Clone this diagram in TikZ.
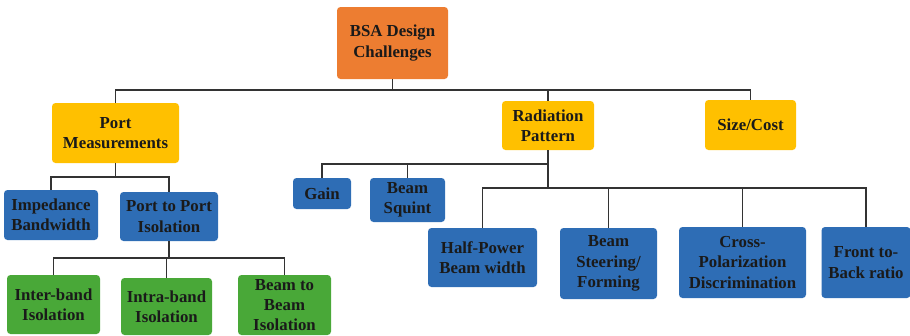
\documentclass[tikz,border=0pt]{standalone}
\usepackage{fontspec}
\setmainfont{Liberation Serif}
\definecolor{cOrange}{HTML}{ED7D31}
\definecolor{cGold}{HTML}{FFC000}
\definecolor{cBlue}{HTML}{2E6DB5}
\definecolor{cGreen}{HTML}{49A838}
\definecolor{cText}{HTML}{1A1A1A}
\definecolor{cLine}{HTML}{333333}
\tikzset{
  box/.style={rounded corners=3.5pt, draw=none, align=center, inner sep=0pt,
    text=cText, font=\fontsize{16.8}{20.3}\selectfont\bfseries},
  obox/.style={box, fill=cOrange},
  gbox/.style={box, fill=cGold},
  bbox/.style={box, fill=cBlue},
  grbox/.style={box, fill=cGreen},
  conn/.style={draw=cLine, line width=1.1pt}
}
\begin{document}
\begin{tikzpicture}[x=1pt,y=-1pt]
\useasboundingbox (0,0) rectangle (910,335);
% nodes
\node[obox, minimum width=111pt, minimum height=72pt] (bsa) at (392.5,43) {BSA Design\\Challenges};
\node[gbox, minimum width=127pt, minimum height=60pt] (pm) at (115.5,133) {Port\\Measurements};
\node[gbox, minimum width=92pt, minimum height=49pt] (rp) at (548,125.5) {Radiation\\Pattern};
\node[gbox, minimum width=91pt, minimum height=50pt] (sc) at (750.5,125) {Size/Cost};
\node[bbox, minimum width=94pt, minimum height=50pt] (imp) at (51,215) {Impedance\\Bandwidth};
\node[bbox, minimum width=98pt, minimum height=49pt] (ptp) at (169,216.5) {Port to Port\\Isolation};
\node[grbox, minimum width=93pt, minimum height=59pt] (inter) at (53.5,304.5) {Inter-band\\Isolation};
\node[grbox, minimum width=91pt, minimum height=57pt] (intra) at (166.5,306.5) {Intra-band\\Isolation};
\node[grbox, minimum width=93pt, minimum height=60pt] (b2b) at (284.5,305) {Beam to\\Beam\\Isolation};
\node[bbox, minimum width=58pt, minimum height=31pt] (gain) at (322,193.5) {Gain};
\node[bbox, minimum width=75pt, minimum height=44pt] (squint) at (407.5,200) {Beam\\Squint};
\node[bbox, minimum width=109pt, minimum height=59pt] (hp) at (482.5,257.5) {Half-Power\\Beam width};
\node[bbox, minimum width=97pt, minimum height=71pt] (steer) at (608.5,263.5) {Beam\\Steering/\\Forming};
\node[bbox, minimum width=127pt, minimum height=71pt] (cross) at (742.5,262.5) {Cross-\\Polarization\\Discrimination};
\node[bbox, minimum width=89pt, minimum height=71pt] (ftb) at (866,262.5) {Front to-\\Back ratio};
% junctions
\coordinate (j1) at (392.5,90);
\coordinate (j2) at (115.5,177);
\coordinate (j3) at (169,258);
\coordinate (j4) at (548,164);
\coordinate (j5) at (548,188);
% connectors
\draw[conn] (bsa.south) -- (j1);
\draw[conn] (pm.north) |- (j1);
\draw[conn] (sc.north) |- (j1);
\draw[conn] (rp.north) -- (rp.north |- j1);
\draw[conn] (pm.south) -- (j2);
\draw[conn] (imp.north) |- (j2);
\draw[conn] (ptp.north) |- (j2);
\draw[conn] (ptp.south) -- (j3);
\draw[conn] (inter.north) |- (j3);
\draw[conn] (intra.north) |- (j3);
\draw[conn] (b2b.north) |- (j3);
\draw[conn] (rp.south) -- (j5);
\draw[conn] (gain.north) |- (j4);
\draw[conn] (squint.north) |- (j4);
\draw[conn] (hp.north) |- (j5);
\draw[conn] (steer.north) |- (j5);
\draw[conn] (cross.north) |- (j5);
\draw[conn] (ftb.north) |- (j5);
\end{tikzpicture}
\end{document}
